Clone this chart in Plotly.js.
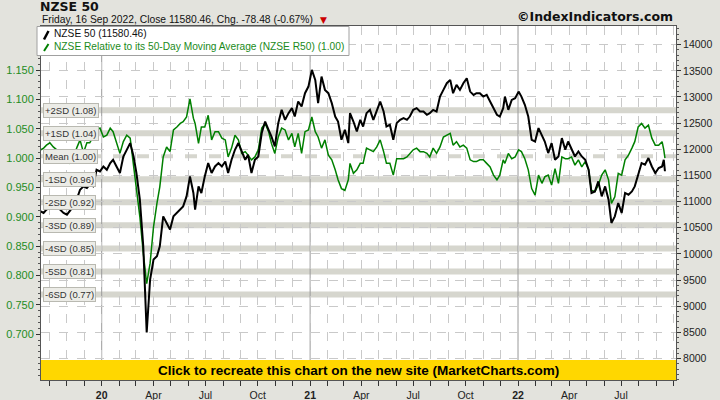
<!DOCTYPE html>
<html>
<head>
<meta charset="utf-8">
<script src="https://cdn.plot.ly/plotly-3.0.1.min.js"></script>
<style>
html,body{margin:0;padding:0;background:#e3e3dd;}
#chart{width:720px;height:400px;}
</style>
</head>
<body>
<div id="chart"></div>
<script>
// ---- data ----
const dates = [
'2019-09-16','2019-09-21','2019-09-26','2019-10-02','2019-10-08','2019-10-14','2019-10-20','2019-10-26','2019-11-01','2019-11-06',
'2019-11-12','2019-11-18','2019-11-24','2019-11-30','2019-12-06','2019-12-11','2019-12-17','2019-12-23','2019-12-29','2020-01-04',
'2020-01-10','2020-01-16','2020-01-21','2020-01-27','2020-02-02','2020-02-08','2020-02-14','2020-02-20','2020-02-26','2020-03-02',
'2020-03-08','2020-03-14','2020-03-20','2020-03-26','2020-04-01','2020-04-07','2020-04-12','2020-04-18','2020-04-24','2020-04-30',
'2020-05-06','2020-05-12','2020-05-18','2020-05-23','2020-05-29','2020-06-04','2020-06-10',
'2020-06-13','2020-06-19','2020-06-24','2020-06-30','2020-07-06','2020-07-12','2020-07-18','2020-07-24','2020-07-30','2020-08-05',
'2020-08-10','2020-08-16','2020-08-22','2020-08-28','2020-09-03','2020-09-09','2020-09-14','2020-09-20','2020-09-26','2020-10-02',
'2020-10-08','2020-10-14','2020-10-20','2020-10-25','2020-10-31','2020-11-06','2020-11-12','2020-11-18','2020-11-24','2020-11-30',
'2020-12-05','2020-12-11','2020-12-17','2020-12-23','2020-12-29','2021-01-04','2021-01-10','2021-01-15','2021-01-21','2021-01-27',
'2021-02-02','2021-02-08','2021-02-14','2021-02-19','2021-02-25','2021-03-03','2021-03-09',
'2021-03-12','2021-03-18','2021-03-24','2021-03-30','2021-04-04','2021-04-10','2021-04-16','2021-04-22','2021-04-28','2021-05-04',
'2021-05-10','2021-05-15','2021-05-21','2021-05-27','2021-06-02','2021-06-08','2021-06-14','2021-06-20','2021-06-25','2021-07-01',
'2021-07-07','2021-07-13','2021-07-19','2021-07-25','2021-07-30','2021-08-05','2021-08-11','2021-08-17','2021-08-23','2021-08-29',
'2021-09-04','2021-09-09','2021-09-15','2021-09-21','2021-09-27','2021-10-03','2021-10-09','2021-10-15','2021-10-20','2021-10-26',
'2021-11-01','2021-11-07','2021-11-13','2021-11-19','2021-11-25','2021-11-30','2021-12-06',
'2021-12-09','2021-12-15','2021-12-21','2021-12-27','2022-01-02','2022-01-07','2022-01-13','2022-01-19','2022-01-25','2022-01-31',
'2022-02-06','2022-02-12','2022-02-17','2022-02-23','2022-03-01','2022-03-07','2022-03-13','2022-03-19','2022-03-25','2022-03-30',
'2022-04-05','2022-04-11','2022-04-17','2022-04-23','2022-04-29','2022-05-05','2022-05-10','2022-05-16','2022-05-22','2022-05-28',
'2022-06-03','2022-06-09','2022-06-14','2022-06-20','2022-06-26','2022-07-02','2022-07-08','2022-07-14','2022-07-20','2022-07-25',
'2022-07-31','2022-08-06','2022-08-12','2022-08-18','2022-08-24','2022-08-30','2022-09-05','2022-09-11','2022-09-14','2022-09-16'
];

const nzse50 = [
10814,10783,10846,10879,10909,10909,10846,10783,10751,10814,
10909,11037,11228,11291,11260,11323,11291,11609,11577,11672,
11609,11737,11800,11672,11546,11863,11991,12119,11863,11546,
11037,10146,8500,9511,9892,9955,10146,10718,10592,10465,
10718,10783,10846,10909,11100,11482,11165,
10846,11291,11165,11482,11737,11546,11672,11737,11672,11768,
11546,11800,11991,12119,11959,11800,11896,11546,11800,11863,
12310,12531,12373,12245,12054,12500,12754,12563,12691,12787,
12626,12913,12817,13073,13199,13517,13327,12882,13390,13136,
13073,12882,12626,12531,12182,12373,12119,
12691,12531,12340,12563,12436,12691,12754,12563,12754,12913,
12722,12436,12468,12182,12500,12563,12596,12563,12626,12754,
12787,12722,12722,12659,12691,12754,12722,13008,13136,13264,
13327,13073,13231,13136,13264,13359,13103,13040,13073,13073,
13008,13040,12913,12787,12659,12626,12787,
13008,12754,12945,12977,13103,13008,12850,12626,12182,12149,
12405,12245,12149,11928,12119,11800,11863,12214,11991,12149,
11991,11863,11959,11863,11800,11609,11165,11195,11386,11100,
11291,11037,10592,10718,10974,10783,11165,11132,11195,11291,
11514,11737,11705,11833,11672,11546,11642,11672,11800,11580.46
];

const r50 = [
1.014,1.017,1.022,1.026,1.019,1.014,1.005,0.995,0.993,0.991,
0.997,1.017,1.031,1.009,1.026,1.026,1.036,1.048,1.051,1.036,
1.039,1.051,1.045,1.025,1.008,1.028,1.039,1.034,0.985,0.951,
0.900,0.838,0.786,0.821,0.883,0.923,0.951,1.002,1.019,1.011,
1.048,1.053,1.059,1.062,1.070,1.101,1.068,
1.059,1.025,1.053,1.053,1.073,1.031,1.045,1.045,1.034,1.031,
1.002,1.017,1.039,1.031,1.008,1.011,1.005,0.997,1.002,1.014,
1.051,1.059,1.045,1.025,1.008,1.036,1.051,1.048,1.031,1.042,
1.019,1.042,1.008,1.045,1.048,1.070,1.045,1.036,1.017,1.031,
1.005,0.997,0.980,0.963,0.948,0.945,0.963,
0.991,0.974,0.980,0.991,0.991,1.017,1.014,1.011,1.019,1.031,
1.011,0.991,0.991,0.971,0.999,0.999,0.999,1.002,1.008,1.014,
1.017,1.011,1.011,1.008,1.002,1.017,1.008,1.019,1.036,1.039,
1.042,1.022,1.028,1.019,1.022,1.017,0.997,0.994,0.994,0.997,
0.997,0.991,0.985,0.971,0.963,0.971,0.997,
0.991,1.008,0.999,1.002,1.014,1.011,0.999,0.980,0.948,0.937,
0.971,0.957,0.968,0.971,0.954,0.982,0.957,1.002,0.999,0.999,
1.002,0.988,0.997,0.985,0.994,0.980,0.945,0.943,0.954,0.971,
0.980,0.963,0.923,0.934,0.974,0.971,0.997,1.005,1.017,1.028,
1.053,1.059,1.051,1.056,1.034,1.022,1.022,1.028,1.014,1.000
];

// standard-deviation bands of the R50 ratio
const sdLevels = [1.0814, 1.0422, 1.003, 0.9638, 0.9246, 0.8854, 0.8462, 0.807, 0.7678];
const sdLabels = ['+2SD (1.08)','+1SD (1.04)','Mean (1.00)','-1SD (0.96)','-2SD (0.92)','-3SD (0.89)','-4SD (0.85)','-5SD (0.81)','-6SD (0.77)'];

// x ticks (month starts) and their labels
const tickDates = [
'2019-10-01','2019-11-01','2019-12-01','2020-01-01','2020-02-01','2020-03-01','2020-04-01','2020-05-01','2020-06-01','2020-07-01',
'2020-08-01','2020-09-01','2020-10-01','2020-11-01','2020-12-01','2021-01-01','2021-02-01','2021-03-01','2021-04-01','2021-05-01',
'2021-06-01','2021-07-01','2021-08-01','2021-09-01','2021-10-01','2021-11-01','2021-12-01','2022-01-01','2022-02-01','2022-03-01',
'2022-04-01','2022-05-01','2022-06-01','2022-07-01','2022-08-01','2022-09-01','2022-10-01'
];
const tickLabels = [
'','','','<b>20</b>','','','Apr','','','Jul',
'','','Oct','','','<b>21</b>','','','Apr','',
'','Jul','','','Oct','','','<b>22</b>','','',
'Apr','','','Jul','','',''
];
const yearStarts = ['2020-01-01','2021-01-01','2022-01-01'];

const leftTicks = [0.70,0.75,0.80,0.85,0.90,0.95,1.00,1.05,1.10,1.15];
const rightTicks = [8000,8500,9000,9500,10000,10500,11000,11500,12000,12500,13000,13500,14000];

const seriesName = 'NZSE 50';
const legendText1 = 'NZSE 50 (11580.46)';
const legendText2 = 'NZSE Relative to its 50-Day Moving Average (NZSE R50) (1.00)';
const subtitle = 'Friday, 16 Sep 2022, Close 11580.46, Chg. -78.48 (-0.67%)';

// ---- layout helpers (pixel -> paper) ----
const M = {l:41, r:44, t:26, b:20};
const PW = 720 - M.l - M.r, PH = 400 - M.t - M.b;
const px = x => (x - M.l) / PW;
const py = y => (400 - M.b - y) / PH;

const FONT = 'Liberation Sans, Arial, sans-serif';
const GREEN = '#008000';

const traces = [
  {x: dates, y: r50, type: 'scatter', mode: 'lines', yaxis: 'y',
   line: {color: GREEN, width: 1.5}, name: 'R50', hoverinfo: 'skip'},
  {x: dates, y: nzse50, type: 'scatter', mode: 'lines', yaxis: 'y2',
   line: {color: '#000000', width: 2}, name: seriesName, hoverinfo: 'skip'}
];

const shapes = [];
sdLevels.forEach((v, i) => {
  const isMean = sdLabels[i].startsWith('Mean');
  shapes.push({type: 'line', xref: 'paper', x0: 0, x1: 1, yref: 'y', y0: v, y1: v, layer: 'below',
    line: {color: '#d6d6ce', width: isMean ? 4 : 6, dash: isMean ? 'dash' : 'solid'}});
});
yearStarts.forEach(d => {
  shapes.push({type: 'line', xref: 'x', x0: d, x1: d, yref: 'paper', y0: 0, y1: 1, layer: 'below',
    line: {color: '#9a9a9a', width: 1}});
});
// yellow banner
shapes.push({type: 'rect', xref: 'paper', x0: 0, x1: 1, yref: 'paper', y0: 0, y1: py(360), layer: 'above',
  fillcolor: '#FFD700', line: {width: 0}});
// legend box
shapes.push({type: 'rect', xref: 'paper', x0: px(37), x1: px(349), yref: 'paper', y0: py(55.5), y1: py(26.5), layer: 'above',
  fillcolor: '#ffffff', line: {color: '#a0a0a0', width: 1}});
// legend icons
shapes.push({type: 'line', xref: 'paper', x0: px(44), x1: px(48.5), yref: 'paper', y0: py(39.5), y1: py(31), layer: 'above',
  line: {color: '#000000', width: 2.5}});
shapes.push({type: 'line', xref: 'paper', x0: px(44), x1: px(48.5), yref: 'paper', y0: py(51), y1: py(44), layer: 'above',
  line: {color: GREEN, width: 2}});

const annotations = [
  {text: subtitle, xref: 'paper', x: px(40), xanchor: 'left', yref: 'paper', y: py(19.5), yanchor: 'middle',
   showarrow: false, font: {family: FONT, size: 10.3, color: '#111'}},
  {text: '▼', xref: 'paper', x: px(323), xanchor: 'center', yref: 'paper', y: py(20.5), yanchor: 'middle',
   showarrow: false, font: {family: 'DejaVu Sans', size: 9, color: '#cc0000'}},
  {text: '<b>©IndexIndicators.com</b>', xref: 'paper', x: px(675), xanchor: 'right', yref: 'paper', y: py(16.5), yanchor: 'middle',
   showarrow: false, font: {family: 'DejaVu Sans', size: 12.5, color: '#111'}},
  {text: legendText1, xref: 'paper', x: px(52), xanchor: 'left', yref: 'paper', y: py(33.5), yanchor: 'middle',
   showarrow: false, font: {family: FONT, size: 10.2, color: '#111'}},
  {text: legendText2, xref: 'paper', x: px(52), xanchor: 'left', yref: 'paper', y: py(46.5), yanchor: 'middle',
   showarrow: false, font: {family: FONT, size: 10.2, color: '#1a8a1a'}},
  {text: '<b>Click to recreate this chart on the new site (MarketCharts.com)</b>', xref: 'paper', x: px(358), xanchor: 'center',
   yref: 'paper', y: py(370), yanchor: 'middle', showarrow: false, font: {family: FONT, size: 13.5, color: '#000'}}
];
sdLevels.forEach((v, i) => {
  annotations.push({text: sdLabels[i], xref: 'paper', x: px(43), xanchor: 'left', yref: 'y', y: v, yanchor: 'middle',
    showarrow: false, bgcolor: '#ecece7', bordercolor: '#b9b9b1', borderwidth: 1, borderpad: 1,
    font: {family: FONT, size: 9.5, color: '#333'}});
});

const layout = {
  width: 720, height: 400,
  margin: M,
  paper_bgcolor: '#e3e3dd',
  plot_bgcolor: '#ffffff',
  showlegend: false,
  font: {family: FONT, color: '#222'},
  title: {text: '<b>NZSE 50</b>', xref: 'container', x: 40/720, xanchor: 'left', yref: 'container', y: 1 - 6.5/400, yanchor: 'middle',
    font: {family: 'DejaVu Sans', size: 12.5, color: '#111'}, pad: {t: 0, b: 0, l: 0, r: 0}},
  xaxis: {
    type: 'date', range: ['2019-09-16 10:00', '2022-10-05 10:00'],
    tickmode: 'array', tickvals: tickDates, ticktext: tickLabels, tickangle: 0,
    ticks: 'outside', ticklen: 5, tickcolor: '#333', tickfont: {family: FONT, size: 10.5, color: '#222'},
    showgrid: true, gridcolor: '#c9c9c9', griddash: 'dash', gridwidth: 1,
    showline: true, linecolor: '#555', linewidth: 1, mirror: true, zeroline: false, fixedrange: true
  },
  yaxis: {
    range: [0.622, 1.225], tickmode: 'array', tickvals: leftTicks, tickformat: '.3f',
    ticks: 'outside', ticklen: 4, tickcolor: '#333', tickfont: {family: FONT, size: 11, color: '#1e8c1e'},
    minor: {ticks: 'outside', ticklen: 2, dtick: 0.01, tickcolor: '#555', showgrid: false},
    showgrid: false, zeroline: false, showline: true, linecolor: '#555', linewidth: 1, fixedrange: true
  },
  yaxis2: {
    overlaying: 'y', side: 'right', range: [7590, 14357], tickmode: 'array', tickvals: rightTicks, tickformat: 'd',
    ticks: 'outside', ticklen: 4, tickcolor: '#333', tickfont: {family: FONT, size: 10.5, color: '#222'},
    minor: {ticks: 'outside', ticklen: 2, dtick: 100, tickcolor: '#555', showgrid: false},
    showgrid: true, gridcolor: '#c9c9c9', griddash: 'dash', gridwidth: 1,
    zeroline: false, showline: true, linecolor: '#555', linewidth: 1, fixedrange: true
  },
  shapes: shapes,
  annotations: annotations
};

Plotly.newPlot('chart', traces, layout, {displayModeBar: false, staticPlot: true});
</script>
</body>
</html>
